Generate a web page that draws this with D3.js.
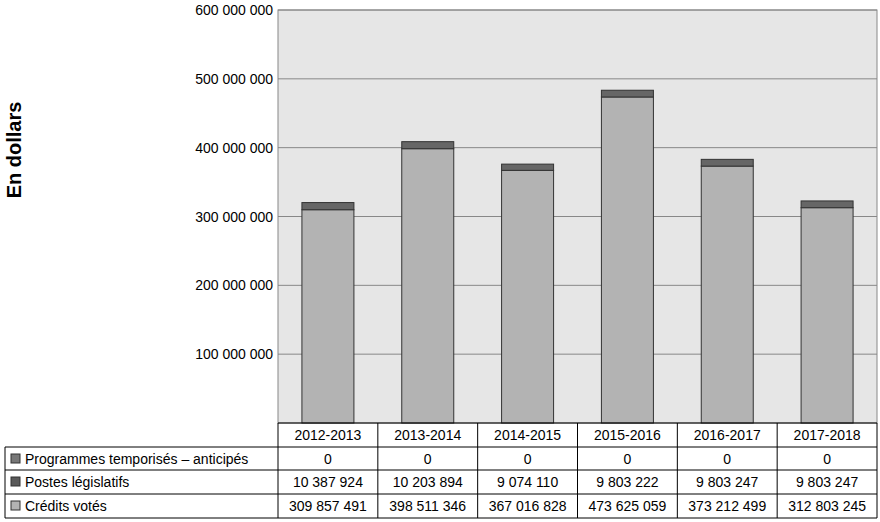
<!DOCTYPE html><html><head><meta charset="utf-8"><script src="https://cdn.jsdelivr.net/npm/d3@7"></script>
<style>body{margin:0;background:#fff}text{font-family:"Liberation Sans",Arial,sans-serif}</style></head><body>
<svg id="c" width="880" height="522"></svg>
<script>
const years=["2012-2013","2013-2014","2014-2015","2015-2016","2016-2017","2017-2018"];
const credits=[309857491,398511346,367016828,473625059,373212499,312803245];
const statutory=[10387924,10203894,9074110,9803222,9803247,9803247];
const sunset=[0,0,0,0,0,0];
const seriesNames=["Programmes temporisés – anticipés","Postes législatifs","Crédits votés"];
const seriesColors=["#777","#595959","#b3b3b3"];
const yTicks=[100000000,200000000,300000000,400000000,500000000,600000000];
const fmt=v=>d3.format(",")(v).replace(/,/g," ");
const svg=d3.select("#c");
const L=278,R=877,T=10,B=423;
const x=d3.scaleBand().domain(years).range([L,R]);
const y=d3.scaleLinear().domain([0,600000000]).range([B,T]);
svg.append("rect").attr("x",L).attr("y",T).attr("width",R-L).attr("height",B-T).attr("fill","#e6e6e6").attr("stroke","#888");
yTicks.forEach(t=>{svg.append("line").attr("x1",L).attr("x2",R).attr("y1",y(t)).attr("y2",y(t)).attr("stroke","#888");
svg.append("text").attr("x",273).attr("y",y(t)+5).attr("text-anchor","end").attr("font-size",14).text(fmt(t));});
const bw=52;
years.forEach((yr,i)=>{const cx=x(yr)+x.bandwidth()/2;
svg.append("rect").attr("x",cx-bw/2).attr("y",y(credits[i])).attr("width",bw).attr("height",B-y(credits[i])).attr("fill","#b3b3b3").attr("stroke","#333");
svg.append("rect").attr("x",cx-bw/2).attr("y",y(credits[i]+statutory[i])).attr("width",bw).attr("height",y(credits[i])-y(credits[i]+statutory[i])).attr("fill","#666").attr("stroke","#333");});
svg.append("text").attr("transform","translate(21,150) rotate(-90)").attr("text-anchor","middle").attr("font-size",20).attr("font-weight","bold").text("En dollars");
// table
const rows=[423,447,470,494,518];
const g=svg.append("g").attr("stroke","#000").attr("stroke-width",1);
const cols=[L].concat(years.map(yy=>x(yy)+x.bandwidth()));
g.append("line").attr("x1",L).attr("x2",R).attr("y1",rows[0]).attr("y2",rows[0]);
for(let r=1;r<rows.length;r++)g.append("line").attr("x1",5).attr("x2",R).attr("y1",rows[r]).attr("y2",rows[r]);
g.append("line").attr("x1",5).attr("x2",5).attr("y1",rows[1]).attr("y2",rows[4]);
cols.forEach(c=>g.append("line").attr("x1",c).attr("x2",c).attr("y1",rows[0]).attr("y2",rows[4]));
years.forEach(yr=>svg.append("text").attr("x",x(yr)+x.bandwidth()/2).attr("y",rows[0]+17).attr("text-anchor","middle").attr("font-size",14).text(yr));
const data=[sunset,statutory,credits];
data.forEach((arr,r)=>{const ty=rows[r+1]+17;
svg.append("rect").attr("x",11).attr("y",ty-10).attr("width",9).attr("height",9).attr("fill",seriesColors[r]).attr("stroke","#333");
svg.append("text").attr("x",25).attr("y",ty).attr("font-size",14).text(seriesNames[r]);
arr.forEach((v,i)=>svg.append("text").attr("x",x(years[i])+x.bandwidth()/2).attr("y",ty).attr("text-anchor","middle").attr("font-size",14).text(fmt(v)));});
</script></body></html>
